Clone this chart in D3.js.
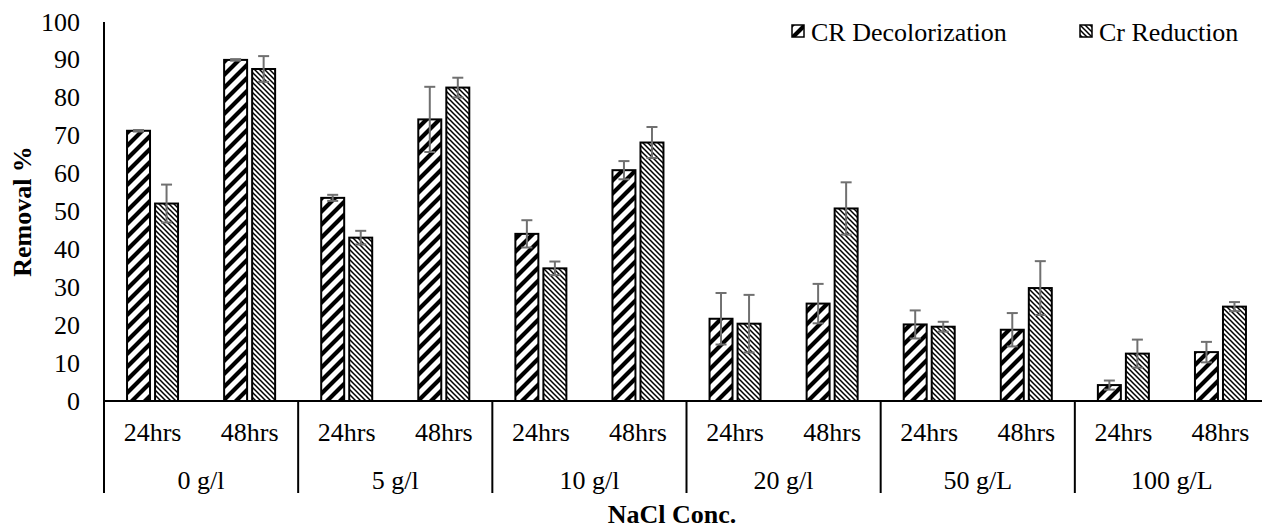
<!DOCTYPE html>
<html>
<head>
<meta charset="utf-8">
<script src="https://cdn.jsdelivr.net/npm/d3@7"></script>
<style>
  body { margin: 0; background: #fff; }
  svg text { font-family: "Liberation Serif", "DejaVu Serif", serif; fill: #000; }
</style>
</head>
<body>
<svg id="chart" width="1262" height="527"></svg>
<script>
// ---- data ----
var groups = ["0 g/l", "5 g/l", "10 g/l", "20 g/l", "50 g/L", "100 g/L"];
var times = ["24hrs", "48hrs"];
var seriesNames = ["CR Decolorization", "Cr Reduction"];

// values in order group x time (24hrs, 48hrs)
var crDecolorization = [71.3, 90.0, 53.6, 74.3, 44.1, 60.9, 21.7, 25.7, 20.2, 18.8, 4.2, 12.9];
var crDecolorizationErr = [0.2, 0.2, 0.8, 8.6, 3.6, 2.4, 6.8, 5.2, 3.7, 4.4, 1.2, 2.7];
var crReduction = [52.1, 87.6, 43.1, 82.7, 35.0, 68.2, 20.4, 50.8, 19.6, 29.8, 12.5, 24.9];
var crReductionErr = [5.0, 3.4, 1.8, 2.6, 1.8, 4.1, 7.6, 6.9, 1.3, 7.1, 3.7, 1.2];

var yTicks = [0, 10, 20, 30, 40, 50, 60, 70, 80, 90, 100];

function DrawChart() {
    var FONT = "26px";
    var svg = d3.select("#chart");
    var plotLeft = 104, plotRight = 1269, plotTop = 22, plotBase = 401, axisBottom = 493;

    var subKeys = [];
    groups.forEach(function(g, gi) {
        times.forEach(function(t) {
            subKeys.push(gi + "|" + t);
        });
    });

    var x = d3.scaleBand().domain(subKeys).range([plotLeft, plotRight]).paddingInner(0).paddingOuter(0);
    var bw = x.bandwidth();
    var inner = d3.scaleBand().domain(seriesNames)
        .range([bw / 2 - 25.5, bw / 2 + 25.5]).paddingInner(0.18).paddingOuter(0);
    var y = d3.scaleLinear().domain([0, 100]).range([plotBase, plotTop]);

    // ---- patterns ----
    var defs = svg.append("defs");
    var pA = defs.append("pattern").attr("id", "patWide")
        .attr("patternUnits", "userSpaceOnUse").attr("width", 13).attr("height", 13);
    pA.append("rect").attr("width", 13).attr("height", 13).attr("fill", "#fff");
    pA.append("path").attr("d", "M-4,4 L4,-4 M0,13 L13,0 M9,17 L17,9")
        .attr("stroke", "#000").attr("stroke-width", 4.2);

    var pB = defs.append("pattern").attr("id", "patFine")
        .attr("patternUnits", "userSpaceOnUse").attr("width", 5).attr("height", 5);
    pB.append("rect").attr("width", 5).attr("height", 5).attr("fill", "#fff");
    pB.append("path").attr("d", "M0,0 L5,5 M-2,3 L2,7 M3,-2 L7,2")
        .attr("stroke", "#000").attr("stroke-width", 1.5);

    var fills = { "CR Decolorization": "url(#patWide)", "Cr Reduction": "url(#patFine)" };

    // ---- bars ----
    var rows = [];
    subKeys.forEach(function(k, i) {
        rows.push({ key: k, series: seriesNames[0], v: crDecolorization[i], e: crDecolorizationErr[i] });
        rows.push({ key: k, series: seriesNames[1], v: crReduction[i], e: crReductionErr[i] });
    });

    svg.append("g").attr("class", "bars")
        .selectAll("rect").data(rows).enter().append("rect")
        .attr("x", function(d) { return x(d.key) + inner(d.series); })
        .attr("y", function(d) { return y(d.v); })
        .attr("width", inner.bandwidth())
        .attr("height", function(d) { return plotBase - y(d.v); })
        .attr("fill", function(d) { return fills[d.series]; })
        .attr("stroke", "#000")
        .attr("stroke-width", 2);

    // error bars
    var errG = svg.append("g").attr("class", "errors")
        .attr("stroke", "#707070").attr("stroke-width", 2).attr("fill", "none");
    rows.forEach(function(d) {
        var cx = x(d.key) + inner(d.series) + inner.bandwidth() / 2;
        var y1 = y(d.v + d.e), y2 = y(d.v - d.e);
        errG.append("line").attr("x1", cx).attr("x2", cx).attr("y1", y1).attr("y2", y2);
        errG.append("line").attr("x1", cx - 5.5).attr("x2", cx + 5.5).attr("y1", y1).attr("y2", y1);
        errG.append("line").attr("x1", cx - 5.5).attr("x2", cx + 5.5).attr("y1", y2).attr("y2", y2);
    });

    // ---- y axis ----
    svg.append("line").attr("x1", plotLeft).attr("x2", plotLeft).attr("y1", plotTop).attr("y2", axisBottom)
        .attr("stroke", "#000").attr("stroke-width", 2);
    svg.append("g").selectAll("text").data(yTicks).enter().append("text")
        .attr("x", 80).attr("y", function(d) { return y(d); })
        .attr("text-anchor", "end").attr("dominant-baseline", "central")
        .style("font-size", FONT)
        .text(function(d) { return d; });

    // ---- x axis (two level) ----
    svg.append("line").attr("x1", plotLeft).attr("x2", plotRight).attr("y1", plotBase).attr("y2", plotBase)
        .attr("stroke", "#000").attr("stroke-width", 2);

    var groupW = bw * times.length;
    svg.append("g").selectAll("line").data(d3.range(groups.length + 1)).enter().append("line")
        .attr("x1", function(i) { return plotLeft + i * groupW; })
        .attr("x2", function(i) { return plotLeft + i * groupW; })
        .attr("y1", plotBase).attr("y2", axisBottom)
        .attr("stroke", "#000").attr("stroke-width", 2);

    svg.append("g").selectAll("text").data(subKeys).enter().append("text")
        .attr("x", function(k) { return x(k) + bw / 2; })
        .attr("y", 432)
        .attr("text-anchor", "middle").attr("dominant-baseline", "central")
        .style("font-size", FONT)
        .text(function(k) { return k.split("|")[1]; });

    svg.append("g").selectAll("text").data(groups).enter().append("text")
        .attr("x", function(g, i) { return plotLeft + i * groupW + groupW / 2; })
        .attr("y", 480)
        .attr("text-anchor", "middle").attr("dominant-baseline", "central")
        .style("font-size", FONT)
        .text(function(g) { return g; });

    // ---- axis titles ----
    svg.append("text")
        .attr("transform", "translate(22," + ((plotTop + plotBase) / 2) + ") rotate(-90)")
        .attr("text-anchor", "middle").attr("dominant-baseline", "central")
        .style("font-size", FONT).style("font-weight", "bold")
        .text("Removal %");

    svg.append("text")
        .attr("x", 672).attr("y", 514)
        .attr("text-anchor", "middle").attr("dominant-baseline", "central")
        .style("font-size", FONT).style("font-weight", "bold")
        .text("NaCl Conc.");

    // ---- legend ----
    var legendX = [792, 1080];
    var legend = svg.append("g").selectAll("g").data(seriesNames).enter().append("g")
        .attr("transform", function(d, i) { return "translate(" + legendX[i] + ",25)"; });
    legend.append("rect").attr("width", 12).attr("height", 12)
        .attr("fill", function(d) { return fills[d]; })
        .attr("stroke", "#000").attr("stroke-width", 1.5);
    legend.append("text").attr("x", 19).attr("y", 7)
        .attr("dominant-baseline", "central")
        .style("font-size", FONT)
        .text(function(d) { return d; });
}

DrawChart();
</script>
</body>
</html>
